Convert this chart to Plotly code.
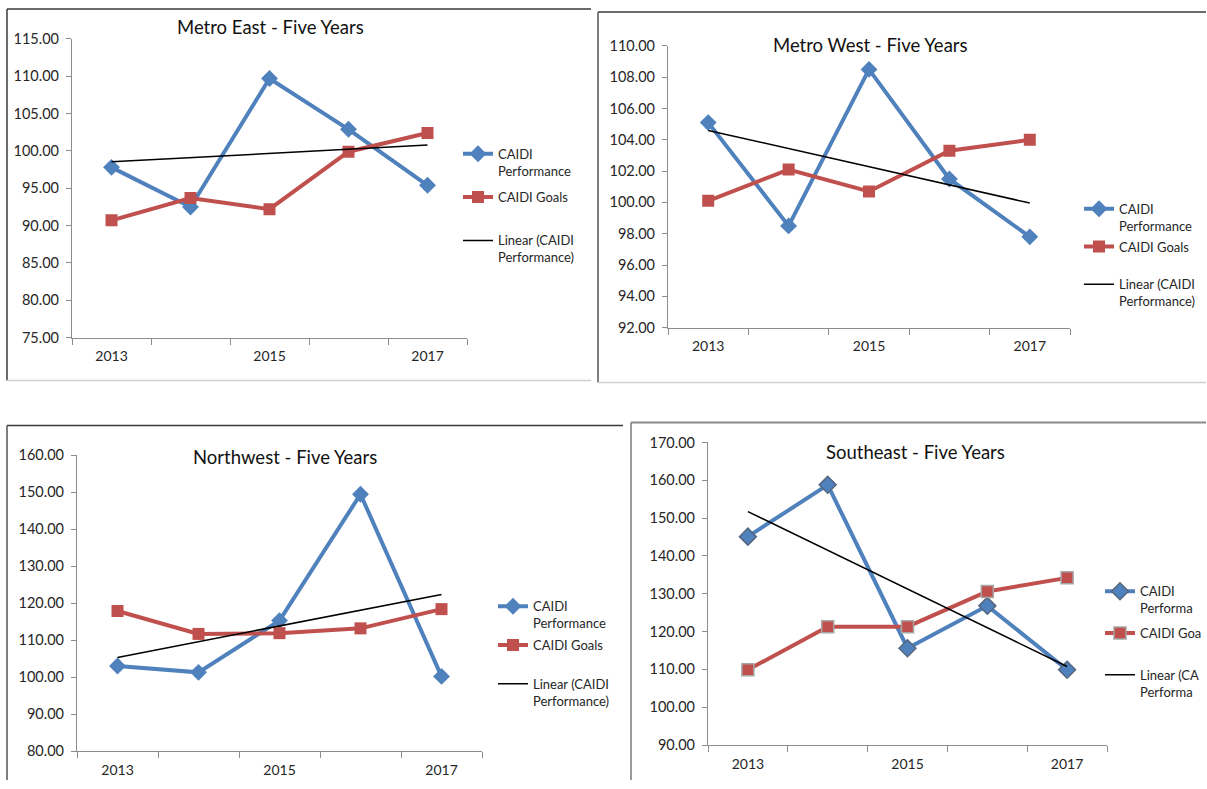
import numpy as np
import plotly.graph_objects as go

# ---- data -------------------------------------------------------------
years = [2013, 2014, 2015, 2016, 2017]
year_labels = ["2013", "2015", "2017"]
year_label_vals = [2013, 2015, 2017]

region_titles = [
    "Metro East - Five Years",
    "Metro West - Five Years",
    "Northwest - Five Years",
    "Southeast - Five Years",
]

# legend labels per panel; the Southeast panel is cut off at the page edge
legend_labels = [
    ["CAIDI<br>Performance", "CAIDI Goals<br> ", "Linear (CAIDI<br>Performance)"],
    ["CAIDI<br>Performance", "CAIDI Goals<br> ", "Linear (CAIDI<br>Performance)"],
    ["CAIDI<br>Performance", "CAIDI Goals<br> ", "Linear (CAIDI<br>Performance)"],
    ["CAIDI<br>Performa", "CAIDI Goa<br> ", "Linear (CA<br>Performa"],
]

metro_east_perf = [97.8, 92.5, 109.7, 102.9, 95.4]
metro_east_goals = [90.7, 93.7, 92.2, 99.9, 102.4]

metro_west_perf = [105.1, 98.5, 108.5, 101.5, 97.8]
metro_west_goals = [100.1, 102.1, 100.7, 103.3, 104.0]

northwest_perf = [103.0, 101.3, 115.3, 149.5, 100.2]
northwest_goals = [117.9, 111.7, 111.9, 113.2, 118.4]

southeast_perf = [145.1, 158.8, 115.6, 126.8, 109.9]
southeast_goals = [109.9, 121.3, 121.3, 130.6, 134.2]

# y axis (min, max, step) per panel
y_scales = [(75, 115, 5), (92, 110, 2), (80, 160, 10), (90, 170, 10)]

perf_series = [metro_east_perf, metro_west_perf, northwest_perf, southeast_perf]
goal_series = [metro_east_goals, metro_west_goals, northwest_goals, southeast_goals]

# ---- page geometry (pixels, measured from the top-left corner) -------
W, H = 1207, 789
# the page is shown inside a band 8 px below the top and 773 px tall
BAND_TOP, BAND_H = 8, 773
BLUE = "#4F81BD"
RED = "#C0504D"
AXIS = "#8C8C8C"
FONT = "Lato"


def fx(px):
    return min(px, W) / W


def fy(py):
    f = (py - BAND_TOP) * H / BAND_H
    f = max(0.0, min(f, H - 1))
    return 1 - f / H


# legend: (x, y, xanchor) -- right-anchored legends end at x
panels = [
    dict(plot_x=(72, 467), plot_y=(38, 337), title=(270, 26),
         legend=(458, 138, "left"), gap=6.5, outline_perf=None, outline_goal=None),
    dict(plot_x=(668, 1070), plot_y=(45, 327), title=(870, 44),
         legend=(1201, 193, "right"), gap=1, outline_perf=None, outline_goal=None),
    dict(plot_x=(77, 482), plot_y=(455, 751), title=(285, 457),
         legend=(493, 591, "left"), gap=2, outline_perf=None, outline_goal=None),
    dict(plot_x=(708, 1107), plot_y=(442, 745), title=(915, 452),
         legend=(1207, 576, "right"), gap=5, outline_perf="#56677e", outline_goal="#a6a6a6"),
]

# panel frames: (x0, y0, x1, y1, colour, width)
frames = [
    (7, 7, 591, 7, "#3a3a3a", 1.5), (7, 7, 7, 380, "#3a3a3a", 1.5),
    (7, 380, 591, 380, "#cfcfcf", 1.5),
    (598, 11, 1206, 11, "#3a3a3a", 1.5), (598, 11, 598, 382, "#555555", 1.5),
    (598, 382, 1206, 382, "#cfcfcf", 1.5),
    (7, 425, 623, 425, "#3a3a3a", 1.5), (7, 425, 7, 789, "#555555", 1.5),
    (631, 422, 1206, 422, "#8a8a8a", 2), (631, 422, 631, 789, "#7a7a7a", 1.5),
]

fig = go.Figure()
boundaries = [y - 0.5 for y in years] + [years[-1] + 0.5]
layout = dict(
    width=W, height=H, margin=dict(l=0, r=0, t=0, b=0),
    paper_bgcolor="white", plot_bgcolor="white",
    font=dict(family=FONT, color="#262626"),
    annotations=[], shapes=[],
)

for i, p in enumerate(panels):
    n = "" if i == 0 else str(i + 1)
    xa, ya = "x" + n, "y" + n
    leg = "legend" + n
    perf, goals = perf_series[i], goal_series[i]
    names = legend_labels[i]
    slope, intercept = np.polyfit(years, perf, 1)
    trend = [slope * y + intercept for y in (years[0], years[-1])]

    perf_marker = dict(symbol="diamond", size=13, color=BLUE)
    goal_marker = dict(symbol="square", size=12, color=RED)
    if p["outline_perf"]:
        perf_marker["line"] = dict(color=p["outline_perf"], width=1.5)
        goal_marker["line"] = dict(color=p["outline_goal"], width=1.5)

    fig.add_trace(go.Scatter(
        x=years, y=perf, mode="lines+markers", name=names[0],
        line=dict(color=BLUE, width=4), marker=perf_marker,
        xaxis=xa, yaxis=ya, legend=leg, legendgroup=f"p{i}"))
    fig.add_trace(go.Scatter(
        x=years, y=goals, mode="lines+markers", name=names[1],
        line=dict(color=RED, width=4), marker=goal_marker,
        xaxis=xa, yaxis=ya, legend=leg, legendgroup=f"g{i}"))
    fig.add_trace(go.Scatter(
        x=[years[0], years[-1]], y=trend, mode="lines", name=names[2],
        line=dict(color="black", width=1.5),
        xaxis=xa, yaxis=ya, legend=leg, legendgroup=f"t{i}"))

    lo, hi, step = y_scales[i]
    layout["xaxis" + n] = dict(
        domain=[fx(p["plot_x"][0]), fx(p["plot_x"][1])], anchor=ya,
        range=[boundaries[0], boundaries[-1]],
        tickmode="array", tickvals=year_label_vals, ticktext=year_labels,
        ticks="", ticklabelstandoff=6,
        minor=dict(tickmode="array", tickvals=boundaries, ticks="outside",
                   ticklen=6, tickcolor=AXIS, tickwidth=1, showgrid=False),
        showline=True, linecolor=AXIS, linewidth=1.2,
        showgrid=False, zeroline=False,
        tickfont=dict(size=14, family=FONT, color="#262626"),
    )
    layout["yaxis" + n] = dict(
        domain=[fy(p["plot_y"][1]), fy(p["plot_y"][0])], anchor=xa,
        range=[lo, hi], tickmode="linear", tick0=lo, dtick=step,
        tickformat=".2f", ticks="outside", ticklen=5, tickcolor=AXIS,
        ticklabelstandoff=4,
        showline=True, linecolor=AXIS, linewidth=1.2,
        showgrid=False, zeroline=False,
        tickfont=dict(size=14.5, family=FONT, color="#262626"),
    )
    lx, ly, lanchor = p["legend"]
    layout[leg] = dict(
        x=fx(lx), y=fy(ly), xanchor=lanchor, yanchor="top",
        bgcolor="rgba(0,0,0,0)", borderwidth=0,
        traceorder="grouped", tracegroupgap=p["gap"], valign="top",
        font=dict(size=13, family=FONT, color="#262626"),
    )
    layout["annotations"].append(dict(
        text=region_titles[i], x=fx(p["title"][0]), y=fy(p["title"][1]),
        xref="paper", yref="paper", xanchor="center", yanchor="middle",
        showarrow=False, font=dict(size=18.5, family=FONT, color="#111111"),
    ))

for x0, y0, x1, y1, col, w in frames:
    layout["shapes"].append(dict(
        type="line", xref="paper", yref="paper",
        x0=fx(x0), y0=fy(y0), x1=fx(x1), y1=fy(y1),
        line=dict(color=col, width=w),
    ))

fig.update_layout(**layout)
fig.write_html("out.html")
